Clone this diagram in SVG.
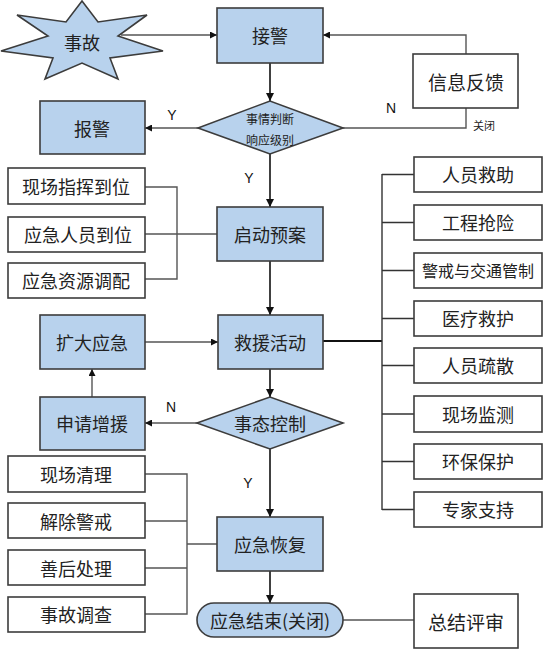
<svg xmlns="http://www.w3.org/2000/svg" width="543" height="649" viewBox="0 0 543 649">
<style>
.blue{fill:#b8d2ed;stroke:#3c3c3c;stroke-width:1.6}
.white{fill:#fff;stroke:#3c3c3c;stroke-width:1.6}
.t{font-family:"Noto Sans CJK SC","Noto Sans",sans-serif;font-size:18px;fill:#222;text-anchor:middle;dominant-baseline:central}
.s{font-size:12px}
.lab{font-family:"Liberation Sans",Arial,sans-serif;font-size:14px;fill:#111;text-anchor:middle;dominant-baseline:central}
.c{fill:none;stroke:#111;stroke-width:1.6}
.g{fill:none;stroke:#555;stroke-width:1.4}
</style>
<defs>
<marker id="ah" viewBox="0 0 10 10" refX="10" refY="5" markerWidth="7" markerHeight="7" markerUnits="userSpaceOnUse" orient="auto"><path d="M0,0 L10,5 L0,10 z" fill="#111"/></marker>
<marker id="ahb" viewBox="0 0 10 10" refX="10" refY="5" markerWidth="8" markerHeight="8" markerUnits="userSpaceOnUse" orient="auto"><path d="M0,0 L10,5 L0,10 z" fill="#111"/></marker>
</defs>
<g id="connectors">
<path class="g" d="M121,35 H217" marker-end="url(#ah)"/>
<path class="g" d="M466,54 V35 H323" marker-end="url(#ah)"/>
<path class="c" d="M270,63 V101" marker-end="url(#ahb)"/>
<path class="g" d="M198,128 H145" marker-end="url(#ah)"/>
<path class="g" d="M343,128 H466 V108"/>
<path class="c" d="M270,154 V207" marker-end="url(#ahb)"/>
<path class="c" d="M270,261 V315" marker-end="url(#ahb)"/>
<path class="g" d="M145,187 H177 V279 H145 M145,234 H217"/>
<path class="c" d="M323,341 H382" style="stroke-width:2.2"/>
<path class="c" d="M382,174 V510 M382,174.5 H414 M382,222.5 H414 M382,270.5 H414 M382,318.5 H414 M382,365.5 H414 M382,414 H414 M382,461.5 H414 M382,509.5 H414" style="stroke:#333;stroke-width:1.4"/>
<path class="g" d="M145,342 H218" marker-end="url(#ah)"/>
<path class="c" d="M270,369 V397" marker-end="url(#ahb)"/>
<path class="g" d="M197,423 H145" marker-end="url(#ah)"/>
<path class="g" d="M92,397 V369" marker-end="url(#ah)"/>
<path class="c" d="M270,449 V517" marker-end="url(#ahb)"/>
<path class="g" d="M145,474 H187 V614 H145 M145,521 H187 M145,568 H187 M187,544 H217"/>
<path class="c" d="M270,571 V603" marker-end="url(#ahb)"/>
<path class="g" d="M343,620 H414"/>
<text class="lab" x="172" y="115">Y</text>
<text class="lab" x="391" y="108">N</text>
<text class="t s" x="484" y="125" style="font-size:11px">关闭</text>
<text class="lab" x="249" y="178">Y</text>
<text class="lab" x="171" y="407">N</text>
<text class="lab" x="248" y="483">Y</text>
</g>
<g id="n-shigu"><path class="blue" d="M82,1 L98,22 L147,15 L118,36 L163,51 L110,58 L118,79 L82,63 L45,79 L53,58 L1,51 L48,36 L17,15 L66,22 Z"/><text class="t" x="82" y="42">事故</text></g>
<g id="n-jiejing"><rect class="blue" x="217" y="8" width="106" height="55"/><text class="t" x="270" y="35">接警</text></g>
<g id="n-xinxi"><rect class="white" x="413" y="54" width="105" height="54"/><text class="t" x="466" y="81" style="font-size:19px">信息反馈</text></g>
<g id="n-baojing"><rect class="blue" x="40" y="101" width="105" height="53"/><text class="t" x="92" y="128">报警</text></g>
<g id="n-panduan"><path class="blue" d="M198,128 L270,101 L343,128 L270,154 Z"/><text class="t s" x="270" y="118">事情判断</text><text class="t s" x="270" y="139">响应级别</text></g>
<g id="n-xc1"><rect class="white" x="8" y="168" width="137" height="36"/><text class="t" x="76" y="186">现场指挥到位</text></g>
<g id="n-xc2"><rect class="white" x="8" y="217" width="137" height="35"/><text class="t" x="78" y="234">应急人员到位</text></g>
<g id="n-xc3"><rect class="white" x="8" y="263" width="137" height="35"/><text class="t" x="76" y="280">应急资源调配</text></g>
<g id="n-qidong"><rect class="blue" x="217" y="207" width="106" height="54"/><text class="t" x="270" y="234">启动预案</text></g>
<g id="n-r1"><rect class="white" x="414" y="157" width="128" height="35"/><text class="t" x="478" y="174">人员救助</text></g>
<g id="n-r2"><rect class="white" x="414" y="205" width="128" height="35"/><text class="t" x="478" y="222">工程抢险</text></g>
<g id="n-r3"><rect class="white" x="414" y="253" width="128" height="35"/><text class="t" x="478" y="270" style="font-size:16px">警戒与交通管制</text></g>
<g id="n-r4"><rect class="white" x="414" y="301" width="128" height="35"/><text class="t" x="478" y="318">医疗救护</text></g>
<g id="n-r5"><rect class="white" x="414" y="348" width="128" height="35"/><text class="t" x="478" y="365">人员疏散</text></g>
<g id="n-r6"><rect class="white" x="414" y="396" width="128" height="36"/><text class="t" x="478" y="414">现场监测</text></g>
<g id="n-r7"><rect class="white" x="414" y="444" width="128" height="35"/><text class="t" x="478" y="461">环保保护</text></g>
<g id="n-r8"><rect class="white" x="414" y="492" width="128" height="35"/><text class="t" x="478" y="509">专家支持</text></g>
<g id="n-jiuyuan"><rect class="blue" x="218" y="315" width="105" height="54"/><text class="t" x="270" y="342">救援活动</text></g>
<g id="n-kuoda"><rect class="blue" x="40" y="315" width="105" height="54"/><text class="t" x="92" y="342">扩大应急</text></g>
<g id="n-shenqing"><rect class="blue" x="40" y="397" width="105" height="53"/><text class="t" x="92" y="423">申请增援</text></g>
<g id="n-shitai"><path class="blue" d="M197,423 L270,397 L343,423 L270,449 Z"/><text class="t" x="270" y="423">事态控制</text></g>
<g id="n-h1"><rect class="white" x="8" y="456" width="137" height="36"/><text class="t" x="76" y="474">现场清理</text></g>
<g id="n-h2"><rect class="white" x="8" y="503" width="137" height="35"/><text class="t" x="76" y="521">解除警戒</text></g>
<g id="n-h3"><rect class="white" x="8" y="550" width="137" height="35"/><text class="t" x="76" y="568">善后处理</text></g>
<g id="n-h4"><rect class="white" x="8" y="597" width="137" height="35"/><text class="t" x="76" y="614">事故调查</text></g>
<g id="n-huifu"><rect class="blue" x="217" y="517" width="106" height="54"/><text class="t" x="270" y="544">应急恢复</text></g>
<g id="n-jieshu"><rect class="blue" x="197" y="603" width="146" height="34" rx="17" ry="17"/><text class="t" x="270" y="620">应急结束(关闭)</text></g>
<g id="n-zongjie"><rect class="white" x="414" y="594" width="104" height="54"/><text class="t" x="466" y="621" style="font-size:19px">总结评审</text></g>
</svg>
